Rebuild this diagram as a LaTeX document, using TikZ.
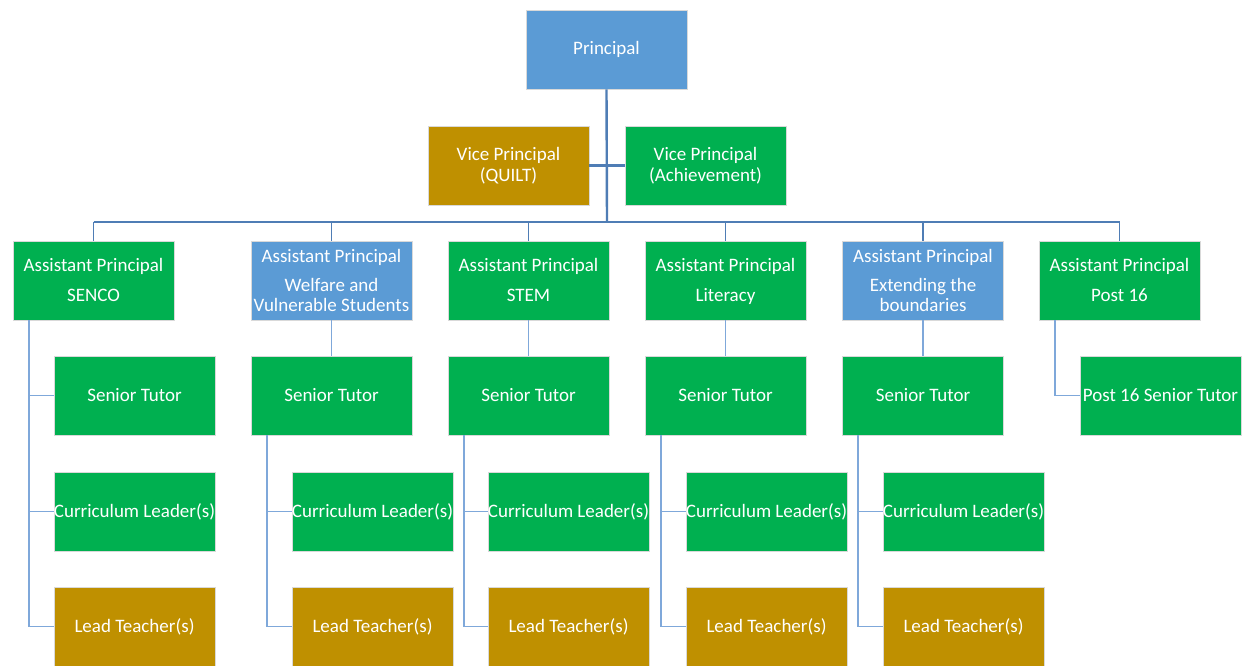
\documentclass[tikz,border=0pt]{standalone}
\usepackage{fontspec}
\setmainfont{Carlito}
\definecolor{pblue}{HTML}{5B9BD5}
\definecolor{pgreen}{HTML}{00B050}
\definecolor{pgold}{HTML}{BF9000}
\definecolor{ltrunk}{HTML}{4F7DB5}
\definecolor{lcol}{HTML}{7FA8DA}
\newcommand{\tstrut}{\rule{0pt}{19pt}}
\begin{document}
\begin{tikzpicture}[x=1pt,y=-1pt,
  box/.style={draw=white!85!black, line width=0.6pt, minimum width=161pt, minimum height=79pt,
    inner sep=0pt, align=center, text=white, font=\fontsize{19}{21}\selectfont},
  bluebox/.style={box, fill=pblue},
  greenbox/.style={box, fill=pgreen},
  goldbox/.style={box, fill=pgold},
  trunk/.style={draw=ltrunk, line width=2.4pt},
  colline/.style={draw=lcol, line width=1.8pt}]
\useasboundingbox[fill=white] (0,0) rectangle (1247,666);

\coordinate (bar) at (607,222);

% nodes
\node[bluebox] (P) at (606.5,49.5) {Principal};
\node[goldbox] (VQ) at (508.5,165.5) {Vice Principal\\(QUILT)};
\node[greenbox] (VA) at (705.5,165.5) {Vice Principal\\(Achievement)};

\node[greenbox] (A1) at (93.5,280.5) {\tstrut Assistant Principal\\[9pt]SENCO\strut};
\node[bluebox] (A2) at (331.5,280.5) {\tstrut Assistant Principal\\[8pt]Welfare and\\[-1pt]Vulnerable Students\strut};
\node[greenbox] (A3) at (528.5,280.5) {\tstrut Assistant Principal\\[9pt]STEM\strut};
\node[greenbox] (A4) at (725.5,280.5) {\tstrut Assistant Principal\\[9pt]Literacy\strut};
\node[bluebox] (A5) at (923,280.5) {\tstrut Assistant Principal\\[8pt]Extending the\\[-1pt]boundaries\strut};
\node[greenbox] (A6) at (1119.5,280.5) {\tstrut Assistant Principal\\[9pt]Post 16\strut};

\node[greenbox] (S1) at (134.5,395.5) {Senior Tutor};
\node[greenbox] (S2) at (331.5,395.5) {Senior Tutor};
\node[greenbox] (S3) at (528.5,395.5) {Senior Tutor};
\node[greenbox] (S4) at (725.5,395.5) {Senior Tutor};
\node[greenbox] (S5) at (923,395.5) {Senior Tutor};
\node[greenbox] (S6) at (1160.5,395.5) {Post 16 Senior Tutor};

\node[greenbox] (C1) at (134.5,511.5) {Curriculum Leader(s)};
\node[greenbox] (C2) at (372.5,511.5) {Curriculum Leader(s)};
\node[greenbox] (C3) at (568.5,511.5) {Curriculum Leader(s)};
\node[greenbox] (C4) at (766.5,511.5) {Curriculum Leader(s)};
\node[greenbox] (C5) at (963.5,511.5) {Curriculum Leader(s)};

\node[goldbox] (L1) at (134.5,626.5) {Lead Teacher(s)};
\node[goldbox] (L2) at (372.5,626.5) {Lead Teacher(s)};
\node[goldbox] (L3) at (568.5,626.5) {Lead Teacher(s)};
\node[goldbox] (L4) at (766.5,626.5) {Lead Teacher(s)};
\node[goldbox] (L5) at (963.5,626.5) {Lead Teacher(s)};

% top connectors
\draw[trunk] (P.south) -- (bar);
\draw[trunk] (VQ.east) -- (VA.west);
\draw[trunk, line width=1.8pt] (A1.north |- bar) -- (A6.north |- bar);
\foreach \a in {A1,A2,A3,A4,A5,A6} \draw[trunk, line width=1.8pt] (\a.north) -- (\a.north |- bar);

% SENCO column
\draw[colline] ([xshift=16pt]A1.south west) |- (L1.west);
\draw[colline] ([xshift=16pt]A1.south west) |- (S1.west);
\draw[colline] ([xshift=16pt]A1.south west) |- (C1.west);

% columns 2-5
\foreach \i in {2,3,4,5} {
  \draw[colline] (A\i.south) -- (S\i.north);
  \draw[colline] ([xshift=16pt]S\i.south west) |- (L\i.west);
  \draw[colline] ([xshift=16pt]S\i.south west) |- (C\i.west);
}

% Post 16 column
\draw[colline] ([xshift=16pt]A6.south west) |- (S6.west);
\end{tikzpicture}
\end{document}
